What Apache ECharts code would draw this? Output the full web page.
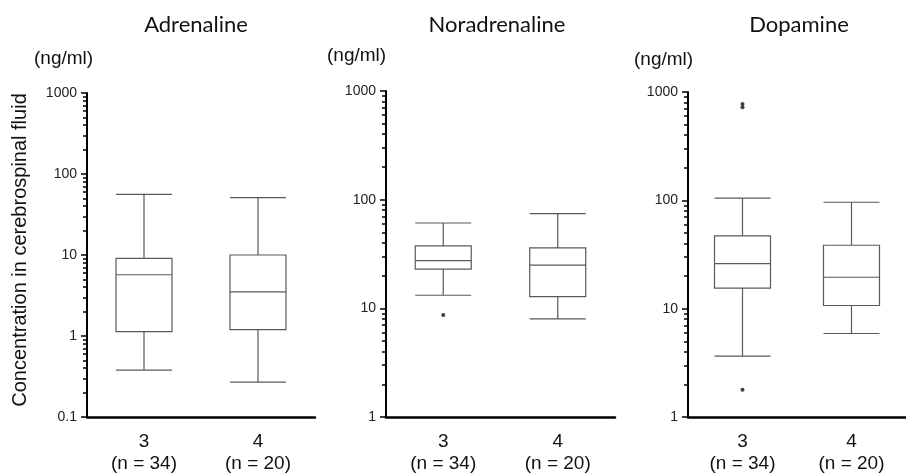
<!DOCTYPE html>
<html>
<head>
<meta charset="utf-8">
<script src="https://cdn.jsdelivr.net/npm/echarts@6/dist/echarts.min.js"></script>
<style>
  html, body { margin: 0; padding: 0; background: #fff; }
  #chart { width: 906px; height: 475px; }
</style>
</head>
<body>
<div id="chart"></div>
<script>
  // panel titles and group labels
  var panelTitles = ['Adrenaline', 'Noradrenaline', 'Dopamine'];
  var groups = ['3\n(n = 34)', '4\n(n = 20)'];

  // box stats per group: [min, Q1, median, Q3, max]
  var adrenalineBoxes = [[0.38, 1.13, 5.7, 9.1, 56], [0.27, 1.2, 3.5, 10, 51]];
  var noradrenalineBoxes = [[13.2, 23, 27.5, 37.6, 61], [8.0, 12.8, 25, 36, 74.5]];
  var dopamineBoxes = [[3.65, 15.5, 26, 47, 105], [5.9, 10.7, 19.5, 38.5, 96]];

  // outliers: [group index, value]
  var adrenalineOutliers = [];
  var noradrenalineOutliers = [[0, 8.7]];
  var dopamineOutliers = [[0, 776], [0, 722], [0, 1.78]];

  // axis ranges and tick labels
  var yMins = [0.1, 1, 1];
  var yMax = 1000;
  var majorTicks = [0.1, 1, 10, 100, 1000];
  var minorSteps = [2, 3, 4, 5, 6, 7, 8, 9];

  var boxes = [adrenalineBoxes, noradrenalineBoxes, dopamineBoxes];
  var outliers = [adrenalineOutliers, noradrenalineOutliers, dopamineOutliers];

  var chart = echarts.init(document.getElementById('chart'));

  var grids = [
    { left: 87, top: 93, width: 228, height: 326 },
    { left: 386, top: 91, width: 229, height: 327 },
    { left: 688, top: 92, width: 229, height: 327 }
  ];
  var titleX = [196, 497, 799];
  var unitPos = [[65, 60], [358, 57], [665, 61]];

  function minorValues(min) {
    var out = [];
    for (var d = min; d < yMax; d *= 10) {
      minorSteps.forEach(function (s) { out.push(+(s * d).toPrecision(3)); });
    }
    return out;
  }

  var xAxes = [], yAxes = [], series = [], titles = [], graphics = [];
  var lineColor = '#5a5a5a';

  for (var i = 0; i < 3; i++) {
    titles.push({
      text: panelTitles[i],
      left: titleX[i],
      top: 14,
      padding: 0,
      textAlign: 'center',
      textStyle: { fontFamily: 'Lato', fontSize: 22, fontWeight: 'normal', color: '#111' }
    });
    xAxes.push({
      type: 'category',
      gridIndex: i,
      data: groups,
      axisLine: { lineStyle: { color: '#000', width: 2.5 } },
      axisTick: { show: false },
      axisLabel: {
        color: '#111', fontFamily: 'Liberation Sans', fontSize: 19,
        lineHeight: 22, margin: 14
      }
    });
    var ticks = majorTicks.filter(function (v) { return v >= yMins[i]; });
    yAxes.push({
      type: 'log',
      logBase: 10,
      gridIndex: i,
      position: 'left',
      min: yMins[i],
      max: yMax,
      splitLine: { show: false },
      axisLine: { show: true, lineStyle: { color: '#000', width: 2 } },
      axisTick: { show: true, length: 6, lineStyle: { color: '#000', width: 1.5 }, customValues: ticks },
      axisLabel: {
        color: '#222', fontFamily: 'Liberation Sans', fontSize: 14, margin: 10,
        customValues: ticks,
        formatter: function (v) { return String(+v.toPrecision(3)); }
      }
    });
    // second axis on the same grid for the log minor ticks
    yAxes.push({
      type: 'log',
      logBase: 10,
      gridIndex: i,
      position: 'left',
      offset: 0,
      min: yMins[i],
      max: yMax,
      splitLine: { show: false },
      axisLine: { show: false },
      axisTick: { show: true, length: 4, lineStyle: { color: '#000', width: 1.5 }, customValues: minorValues(yMins[i]) },
      axisLabel: { show: false }
    });
    series.push({
      type: 'boxplot',
      xAxisIndex: i,
      yAxisIndex: i * 2,
      data: boxes[i],
      boxWidth: [56, 56],
      itemStyle: { color: 'transparent', borderColor: lineColor, borderWidth: 1.2 },
      emphasis: { disabled: true }
    });
    series.push({
      type: 'scatter',
      xAxisIndex: i,
      yAxisIndex: i * 2,
      data: outliers[i],
      symbol: 'circle',
      symbolSize: 4,
      itemStyle: { color: '#111' }
    });
    graphics.push({
      type: 'text',
      left: unitPos[i][0] - 31,
      top: unitPos[i][1] - 11,
      style: { text: '(ng/ml)', fontFamily: 'Liberation Sans', fontSize: 19, fill: '#111' }
    });
  }

  graphics.push({
    type: 'text',
    x: 20,
    y: 250,
    rotation: Math.PI / 2,
    style: {
      text: 'Concentration in cerebrospinal fluid',
      fontFamily: 'Liberation Sans', fontSize: 20, fill: '#111',
      align: 'center', verticalAlign: 'middle'
    }
  });

  var option = {
    animation: false,
    backgroundColor: '#fff',
    title: titles,
    grid: grids,
    xAxis: xAxes,
    yAxis: yAxes,
    series: series,
    graphic: graphics
  };
  chart.setOption(option);
</script>
</body>
</html>
